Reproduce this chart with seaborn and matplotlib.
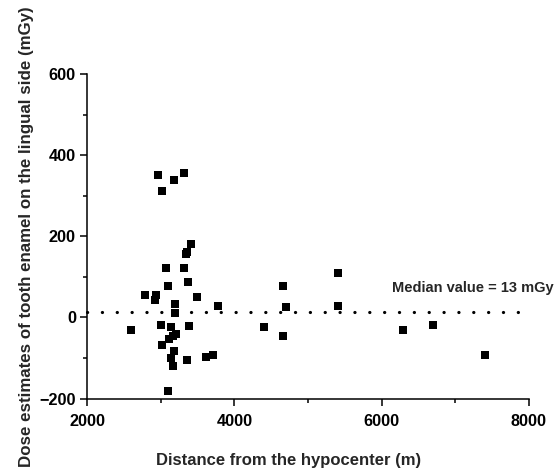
import pandas as pd
import seaborn as sns
import matplotlib.pyplot as plt
from matplotlib.ticker import MultipleLocator

# Distance from hypocenter (m) and dose estimates (mGy)
distance = [2964, 3317, 3185, 3022, 3412, 3353, 3344, 3068, 3317, 3100,
            3375, 2790, 2933, 2923, 3489, 3195, 3778, 3190, 3000, 3136,
            3389, 2593, 4407, 3208, 3171, 3109, 3014, 3181, 3144, 3361,
            3619, 3714, 3167, 3100, 4656, 4705, 4665, 5411, 5403, 6289,
            6692, 7407]
dose = [350, 357, 339, 311, 180, 162, 157, 121, 121, 78,
        87, 55, 54, 44, 50, 34, 28, 12, -20, -24,
        -22, -30, -23, -40, -47, -54, -67, -84, -100, -106,
        -97, -93, -120, -181, 77, 25, -46, 110, 27, -31,
        -20, -93]

median_dose = 13
median_label = 'Median value = 13 mGy'

df = pd.DataFrame({'distance': distance, 'dose': dose})

sns.set_style('ticks')
plt.rcParams['font.family'] = ['Liberation Sans', 'DejaVu Sans']
plt.rcParams['font.weight'] = 'bold'

fig = plt.figure(figsize=(5.56, 4.72), dpi=100)
ax = fig.add_axes([0.1565, 0.1557, 0.7949, 0.6875])

sns.scatterplot(data=df, x='distance', y='dose', marker='s', color='black',
                s=28, linewidth=0, ax=ax, zorder=3)

# median line
ax.plot([2000, 8000], [median_dose, median_dose], color='black', lw=2.3,
        linestyle=(0, (0.05, 4.6)), dash_capstyle='round', clip_on=False)
ax.text(6140, 73, median_label, fontsize=10.5, fontweight='bold',
        ha='left', va='center')

ax.set_xlim(2000, 8000)
ax.set_ylim(-200, 600)
ax.xaxis.set_major_locator(MultipleLocator(2000))
ax.xaxis.set_minor_locator(MultipleLocator(1000))
ax.yaxis.set_major_locator(MultipleLocator(200))
ax.yaxis.set_minor_locator(MultipleLocator(100))
ax.set_xticklabels([f'{int(v)}' for v in ax.get_xticks()])
ax.set_yticklabels([f'{int(v)}'.replace('-', '\u2212') for v in ax.get_yticks()])

ax.tick_params(which='major', length=5, width=1.1, labelsize=11.7, pad=3,
               color='black', labelcolor='black')
ax.tick_params(which='minor', length=3, width=1.1, color='black')
ax.tick_params(axis='x', pad=6)

sns.despine(ax=ax)
for s in ['left', 'bottom']:
    ax.spines[s].set_linewidth(1.1)
    ax.spines[s].set_color('black')

ax.set_xlabel('Distance from the hypocenter (m)', fontsize=12, fontweight='bold')
ax.set_ylabel('Dose estimates of tooth enamel on the lingual side (mGy)',
              fontsize=12.2, fontweight='bold')
ax.xaxis.set_label_coords(0.455, -0.168)
ax.yaxis.set_label_coords(-0.12, 0.5)

fig.savefig('out.png', dpi=100)
